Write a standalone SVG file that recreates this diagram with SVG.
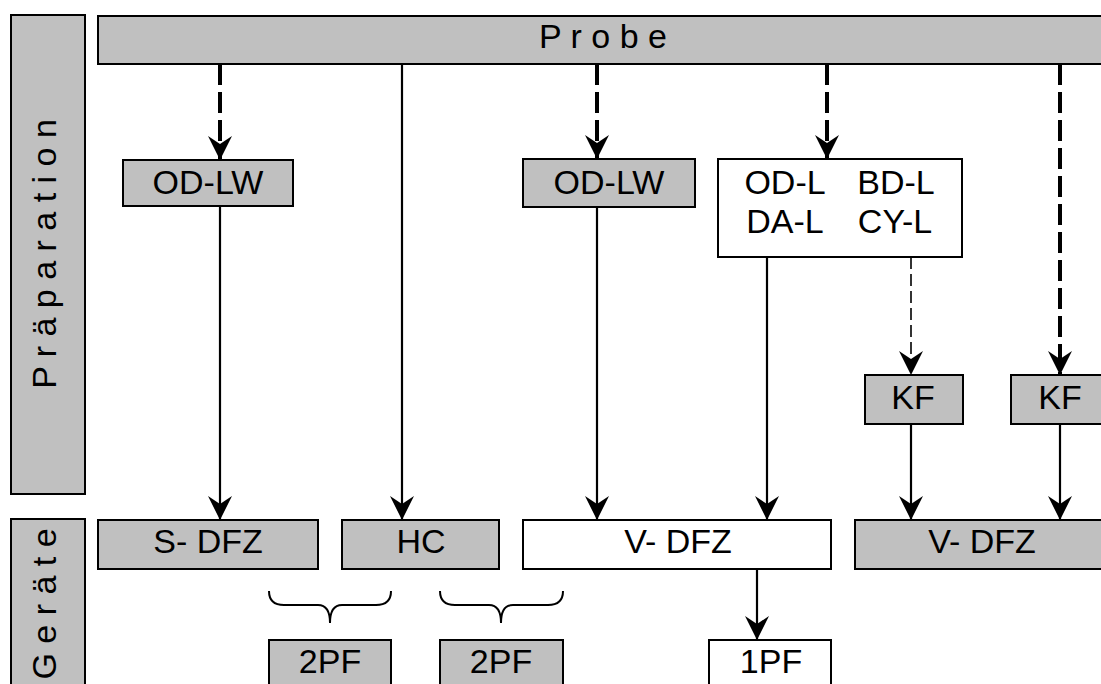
<svg xmlns="http://www.w3.org/2000/svg" width="1101" height="684" viewBox="0 0 1101 684">
<defs>
<marker id="ah" viewBox="0 0 24 24" markerWidth="24" markerHeight="24" refX="24" refY="12" orient="auto" markerUnits="userSpaceOnUse">
<path d="M0,0 L24,12 L0,24 L8,12 Z" fill="#000"/>
</marker>
<style>
.g{fill:#c0c0c0;stroke:#000;stroke-width:2}
.w{fill:#fff;stroke:#000;stroke-width:2}
.t{font-family:"Liberation Sans",Arial,sans-serif;font-size:34px;fill:#000;text-anchor:middle}
.s{fill:none;stroke:#000;stroke-width:2.2}
.d{fill:none;stroke:#000;stroke-width:4;stroke-dasharray:21 7}
.dt{fill:none;stroke:#000;stroke-width:1.6;stroke-dasharray:12 5}
.b{fill:none;stroke:#000;stroke-width:2}
</style>
</defs>
<rect width="1101" height="684" fill="#fff"/>
<g id="praeparation">
<rect class="g" x="11" y="15" width="74" height="479"/>
<text class="t" transform="translate(56,254) rotate(-90)">P r ä p a r a t i o n</text>
</g>
<g id="geraete">
<rect class="g" x="11" y="519" width="74" height="175"/>
<text class="t" transform="translate(56,604) rotate(-90)">G e r ä t e</text>
</g>
<g id="probe">
<rect class="g" x="98" y="16" width="1013" height="48"/>
<text class="t" x="603" y="48">P r o b e</text>
</g>
<g id="connectors">
<line class="d" x1="220" y1="64" x2="220" y2="160" marker-end="url(#ah)"/>
<line class="d" x1="597" y1="64" x2="597" y2="159" marker-end="url(#ah)"/>
<line class="d" x1="827" y1="64" x2="827" y2="159" marker-end="url(#ah)"/>
<line class="d" x1="1060" y1="64" x2="1060" y2="375" marker-end="url(#ah)"/>
<line class="s" x1="402" y1="64" x2="402" y2="520" marker-end="url(#ah)"/>
<line class="s" x1="220" y1="206" x2="220" y2="520" marker-end="url(#ah)"/>
<line class="s" x1="597" y1="207" x2="597" y2="520" marker-end="url(#ah)"/>
<line class="s" x1="767" y1="257" x2="767" y2="520" marker-end="url(#ah)"/>
<line class="dt" x1="911" y1="257" x2="911" y2="375" marker-end="url(#ah)"/>
<line class="s" x1="911" y1="424" x2="911" y2="520" marker-end="url(#ah)"/>
<line class="s" x1="1060" y1="424" x2="1060" y2="520" marker-end="url(#ah)"/>
<line class="s" x1="757" y1="569" x2="757" y2="640" marker-end="url(#ah)"/>
</g>
<g id="odlw1">
<rect class="g" x="123" y="160" width="170" height="46"/>
<text class="t" x="208" y="194">OD-LW</text>
</g>
<g id="odlw2">
<rect class="g" x="523" y="159" width="172" height="48"/>
<text class="t" x="609" y="194">OD-LW</text>
</g>
<g id="labels">
<rect class="w" x="718" y="159" width="244" height="98"/>
<text class="t" x="785" y="194">OD-L</text>
<text class="t" x="896" y="194">BD-L</text>
<text class="t" x="785" y="233">DA-L</text>
<text class="t" x="895" y="233">CY-L</text>
</g>
<g id="kf1">
<rect class="g" x="865" y="375" width="98" height="49"/>
<text class="t" x="913" y="409">KF</text>
</g>
<g id="kf2">
<rect class="g" x="1011" y="375" width="100" height="49"/>
<text class="t" x="1060" y="409">KF</text>
</g>
<g id="sdfz">
<rect class="g" x="98" y="520" width="220" height="49"/>
<text class="t" x="208" y="553">S- DFZ</text>
</g>
<g id="hc">
<rect class="g" x="342" y="520" width="157" height="49"/>
<text class="t" x="421" y="553">HC</text>
</g>
<g id="vdfz1">
<rect class="w" x="523" y="520" width="308" height="49"/>
<text class="t" x="678" y="553">V- DFZ</text>
</g>
<g id="vdfz2">
<rect class="g" x="855" y="520" width="256" height="49"/>
<text class="t" x="982" y="553">V- DFZ</text>
</g>
<g id="brace1">
<path class="b" d="M269,591 Q269,605 284,605 L318,605 Q330,605 330,623 Q330,605 342,605 L376,605 Q391,605 391,591"/>
</g>
<g id="brace2">
<path class="b" d="M440,591 Q440,605 455,605 L489,605 Q501,605 501,623 Q501,605 513,605 L548,605 Q563,605 563,591"/>
</g>
<g id="pf2a">
<rect class="g" x="269" y="640" width="122" height="54"/>
<text class="t" x="330" y="673">2PF</text>
</g>
<g id="pf2b">
<rect class="g" x="440" y="640" width="123" height="54"/>
<text class="t" x="501" y="673">2PF</text>
</g>
<g id="pf1">
<rect class="w" x="709" y="640" width="122" height="54"/>
<text class="t" x="771" y="673">1PF</text>
</g>
</svg>
